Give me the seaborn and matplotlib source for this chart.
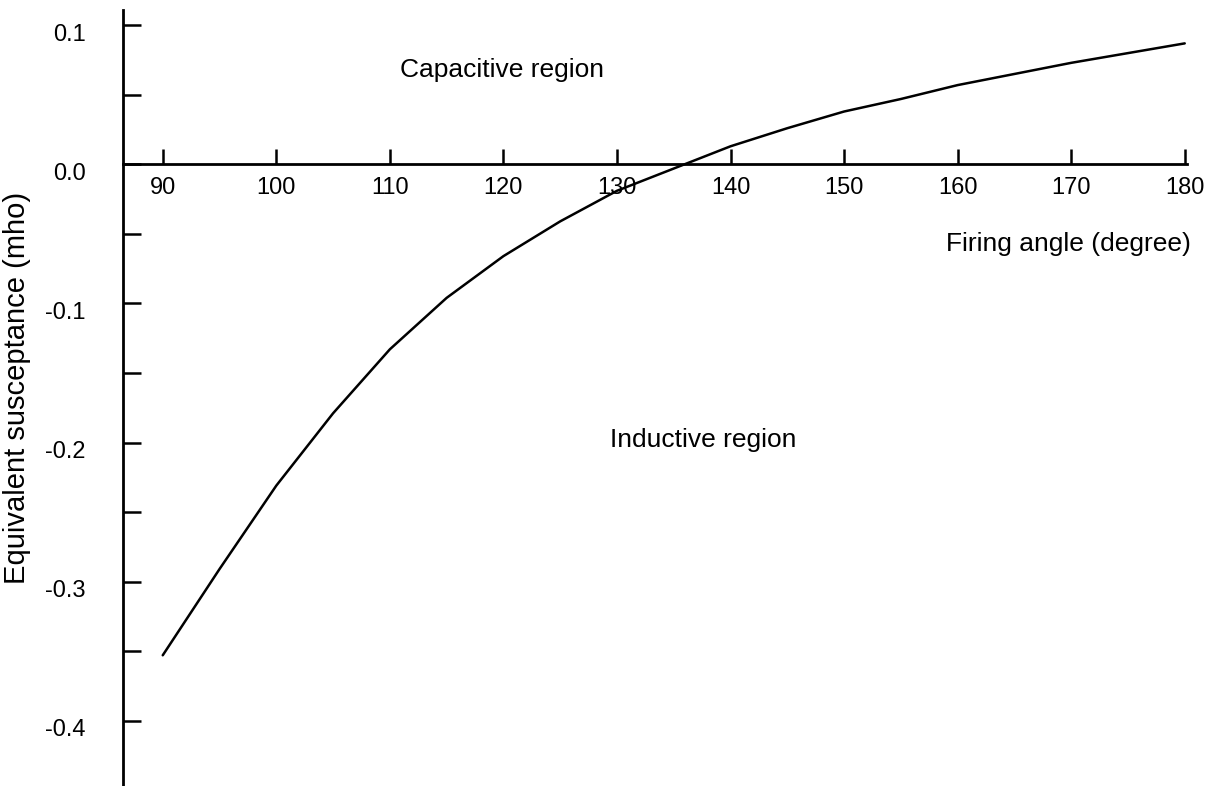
"""Equivalent susceptance of the TCR/FC compensator versus firing angle."""

import matplotlib
matplotlib.use('Agg')
import matplotlib.pyplot as plt
import seaborn as sns
import pandas as pd
from matplotlib.ticker import MultipleLocator
from matplotlib.transforms import ScaledTranslation

# Values
firing_angle = [90, 95, 100, 105, 110, 115, 120, 125, 130, 135,
                140, 145, 150, 155, 160, 165, 170, 175, 180]
susceptance = [-0.353, -0.291, -0.231, -0.179, -0.133, -0.096, -0.066, -0.041, -0.019, -0.003,
               0.013, 0.026, 0.038, 0.047, 0.057, 0.065, 0.073, 0.080, 0.087]
x_ticks = [90, 100, 110, 120, 130, 140, 150, 160, 170, 180]
y_ticks = [-0.4, -0.3, -0.2, -0.1, 0.0, 0.1]

df = pd.DataFrame({'angle': firing_angle, 'b': susceptance})

sns.set_style('white')
plt.rcParams['font.family'] = ['Liberation Sans', 'DejaVu Sans']
plt.rcParams['axes.unicode_minus'] = False
plt.rcParams['text.color'] = 'black'
plt.rcParams['xtick.color'] = 'black'
plt.rcParams['ytick.color'] = 'black'
plt.rcParams['axes.labelcolor'] = 'black'

fig = plt.figure(figsize=(12.22, 7.86), dpi=100)
ax = fig.add_axes([123 / 1222, 0.0, 1064 / 1222, 776 / 786])

sns.lineplot(data=df, x='angle', y='b', ax=ax, color='black', linewidth=1.8)

ax.set_xlim(86.5, 180.2)
ax.set_ylim(-0.447, 0.111)

# axis look: y axis on the left, x axis through zero
ax.spines['right'].set_visible(False)
ax.spines['top'].set_visible(False)
ax.spines['bottom'].set_position(('data', 0))
for side in ['left', 'bottom']:
    ax.spines[side].set_linewidth(2.0)
    ax.spines[side].set_color('black')

ax.set_xticks(x_ticks)
ax.set_yticks(y_ticks)
ax.set_yticklabels([f'{v:.1f}' for v in y_ticks])
ax.yaxis.set_minor_locator(MultipleLocator(0.05))
ax.tick_params(axis='x', bottom=True, direction='in', length=11, width=1.8, pad=9, labelsize=17)
ax.tick_params(axis='y', which='both', left=True, direction='in', length=13, width=1.8,
               pad=27, labelsize=17)

# the y labels sit a little below their ticks in the original
shift = ScaledTranslation(0, -0.07, fig.dpi_scale_trans)
for lab in ax.get_yticklabels():
    lab.set_transform(lab.get_transform() + shift)

ax.set_xlabel('')
ax.set_ylabel('Equivalent susceptance (mho)', fontsize=21)
ax.yaxis.set_label_coords(-0.086, 0.513)

ax.text(110.9, 0.068, 'Capacitive region', fontsize=19, ha='left', va='center')
ax.text(129.4, -0.198, 'Inductive region', fontsize=19, ha='left', va='center')
ax.text(180.5, -0.057, 'Firing angle (degree)', fontsize=19, ha='right', va='center')

fig.savefig('out.png', dpi=100)
